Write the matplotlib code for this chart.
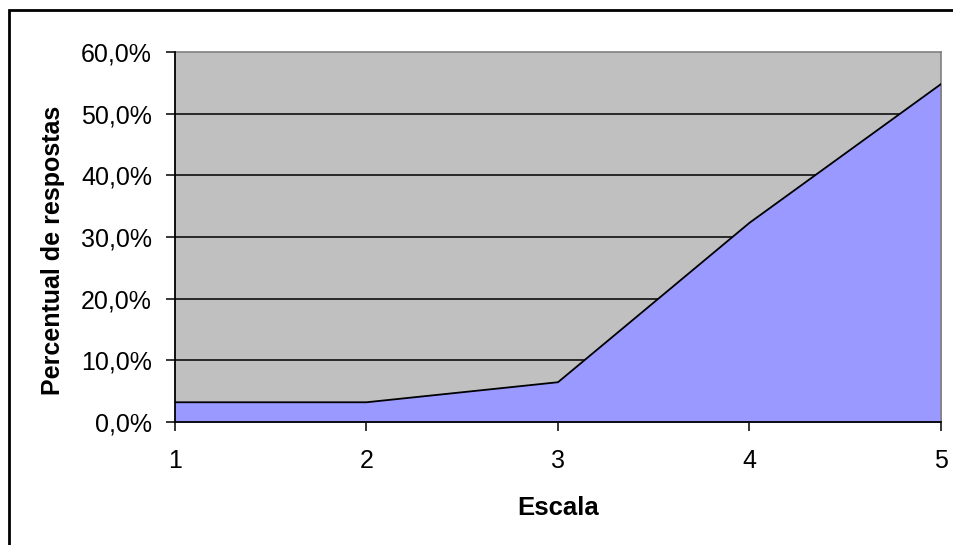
import matplotlib.pyplot as plt
from matplotlib.patches import Rectangle
from matplotlib.ticker import FuncFormatter

# survey answers per scale point (share of responses, %)
escala = [1, 2, 3, 4, 5]
percentual = [3.2, 3.2, 6.45, 32.3, 54.8]
yticks = [0, 10, 20, 30, 40, 50, 60]

plt.rcParams['font.family'] = ['Liberation Sans', 'DejaVu Sans']

W, H = 954, 545
fig = plt.figure(figsize=(W / 100, H / 100), dpi=100)
ax = fig.add_axes([175 / W, (H - 422) / H, (941 - 175) / W, (422 - 52) / H])

ax.set_facecolor('#C0C0C0')
ax.fill_between(escala, percentual, 0, color='#9999FF', zorder=2)
ax.plot(escala, percentual, color='black', lw=1.3, zorder=3)

for v in yticks[1:-1]:
    ax.axhline(v, color='black', lw=1.1, zorder=1)

ax.set_xlim(1, 5)
ax.set_ylim(0, 60)
ax.set_xticks(escala)
ax.set_yticks(yticks)
ax.yaxis.set_major_formatter(FuncFormatter(lambda v, p: f'{v:.1f}%'.replace('.', ',')))
ax.tick_params(direction='out', length=6.5, width=1.1, labelsize=18)
ax.tick_params(axis='y', pad=10)
ax.tick_params(axis='x', pad=13)

for s in ['top', 'right']:
    ax.spines[s].set_color('#808080')
    ax.spines[s].set_linewidth(1.2)
for s in ['left', 'bottom']:
    ax.spines[s].set_color('black')
    ax.spines[s].set_linewidth(1.3)
    ax.spines[s].set_zorder(4)

fig.text(558 / W, 1 - 508 / H, 'Escala', ha='center', va='center',
         fontsize=18.5, fontweight='bold')
fig.text(53 / W, 1 - 250 / H, 'Percentual de respostas', ha='center', va='center',
         rotation=90, fontsize=18, fontweight='bold')

# chart frame, running off the right and bottom edges
fig.patches.append(Rectangle((9 / W, -0.05), 1.0, 1 - 10 / H + 0.05,
                             transform=fig.transFigure, fill=False,
                             edgecolor='black', lw=2, zorder=0))

fig.savefig('out.png', dpi=100)
